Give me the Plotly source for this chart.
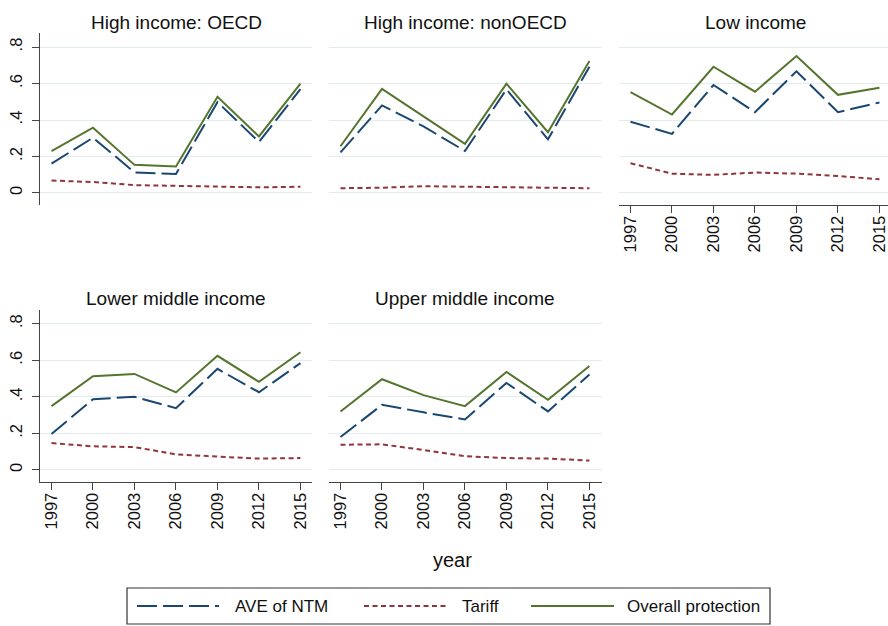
import plotly.graph_objects as go

years = [1997, 2000, 2003, 2006, 2009, 2012, 2015]
panel_titles = ["High income: OECD", "High income: nonOECD", "Low income",
                "Lower middle income", "Upper middle income"]
y_tickvals = [0, 0.2, 0.4, 0.6, 0.8]
y_ticktext = ["0", ".2", ".4", ".6", ".8"]
series_names = ["AVE of NTM", "Tariff", "Overall protection"]

ave_oecd = [0.161, 0.303, 0.113, 0.104, 0.498, 0.280, 0.569]
tariff_oecd = [0.068, 0.060, 0.043, 0.041, 0.035, 0.031, 0.034]
overall_oecd = [0.229, 0.358, 0.154, 0.145, 0.527, 0.310, 0.599]

ave_nonoecd = [0.223, 0.480, 0.365, 0.230, 0.568, 0.294, 0.692]
tariff_nonoecd = [0.026, 0.029, 0.037, 0.035, 0.031, 0.029, 0.026]
overall_nonoecd = [0.256, 0.571, 0.420, 0.269, 0.599, 0.333, 0.723]

ave_low = [0.390, 0.324, 0.592, 0.443, 0.667, 0.443, 0.496]
tariff_low = [0.163, 0.106, 0.099, 0.112, 0.106, 0.093, 0.075]
overall_low = [0.553, 0.430, 0.692, 0.555, 0.751, 0.538, 0.577]

ave_lmi = [0.196, 0.387, 0.400, 0.338, 0.553, 0.425, 0.584]
tariff_lmi = [0.147, 0.129, 0.125, 0.085, 0.073, 0.062, 0.065]
overall_lmi = [0.349, 0.513, 0.525, 0.424, 0.624, 0.482, 0.644]

ave_umi = [0.180, 0.356, 0.315, 0.276, 0.476, 0.320, 0.522]
tariff_umi = [0.138, 0.140, 0.109, 0.075, 0.065, 0.062, 0.051]
overall_umi = [0.320, 0.496, 0.409, 0.349, 0.536, 0.384, 0.569]

panel_data = [
    (ave_oecd, tariff_oecd, overall_oecd),
    (ave_nonoecd, tariff_nonoecd, overall_nonoecd),
    (ave_low, tariff_low, overall_low),
    (ave_lmi, tariff_lmi, overall_lmi),
    (ave_umi, tariff_umi, overall_umi),
]

W, H = 888, 626
FONT = "Liberation Sans, Arial, sans-serif"
colors = ["#1a476f", "#90353b", "#55752f"]
dashes = ["20px,6px", "5px,3.5px", "solid"]
AXIS_COLOR = "#444444"
GRID_COLOR = "#e2ebf0"
TXT = "#111111"

# panel geometry in pixels: (x0, x1, y_top, y_bottom)
geom = [
    (40, 312, 33, 205),
    (329, 602, 33, 205),
    (619, 888, 33, 205),
    (40, 312, 309.6, 482),
    (329, 602, 309.6, 482),
]
show_y = [True, False, False, True, False]
show_x = [False, False, True, True, True]
px_per_year = 13.83

fig = go.Figure()
layout = dict()
for i, (x0, x1, yt, yb) in enumerate(geom):
    idx = "" if i == 0 else str(i + 1)
    xa, ya = "x" + idx, "y" + idx
    ave, tar, ovr = panel_data[i]
    for k, vals in enumerate([ave, tar, ovr]):
        fig.add_trace(go.Scatter(
            x=years, y=vals, mode="lines", xaxis=xa, yaxis=ya,
            name=series_names[k], showlegend=False,
            line=dict(color=colors[k], width=2, dash=dashes[k]),
        ))
    x_lo = 1997 - 11.5 / px_per_year
    x_hi = x_lo + (x1 - x0) / px_per_year
    layout["xaxis" + idx] = dict(
        domain=[x0 / W, x1 / W], range=[x_lo, x_hi], anchor=ya,
        showgrid=False, zeroline=False,
        showline=show_x[i], linecolor=AXIS_COLOR, linewidth=1.2,
        ticks="outside" if show_x[i] else "", ticklen=7, tickcolor=AXIS_COLOR,
        tickwidth=1.2,
        tickvals=years, ticktext=[str(y) for y in years],
        showticklabels=show_x[i], tickangle=-90,
        tickfont=dict(family=FONT, size=16.5, color=TXT),
        ticklabelstandoff=-4, ticklabeloverflow="allow",
    )
    layout["yaxis" + idx] = dict(
        domain=[1 - yb / H, 1 - yt / H], range=[-0.066, 0.877], anchor=xa,
        showgrid=True, gridcolor=GRID_COLOR, gridwidth=1.3, zeroline=False,
        showline=show_y[i], linecolor=AXIS_COLOR, linewidth=1.2,
        ticks="outside" if show_y[i] else "", ticklen=7, tickcolor=AXIS_COLOR,
        tickwidth=1.2,
        tickvals=y_tickvals, ticktext=y_ticktext,
        showticklabels=show_y[i], tickangle=-90,
        tickfont=dict(family=FONT, size=16.5, color=TXT),
        ticklabelstandoff=3,
    )

annotations = []
title_y = [22, 22, 22, 298, 298]
for i, (x0, x1, yt, yb) in enumerate(geom):
    cx = (x0 + x1) / 2 if i != 2 else (619 + 891) / 2
    annotations.append(dict(
        text=panel_titles[i], x=cx / W, y=1 - title_y[i] / H,
        xref="paper", yref="paper", xanchor="center", yanchor="middle",
        showarrow=False, font=dict(family=FONT, size=19, color=TXT),
    ))
annotations.append(dict(
    text="year", x=452 / W, y=1 - 560 / H, xref="paper", yref="paper",
    xanchor="center", yanchor="middle", showarrow=False,
    font=dict(family=FONT, size=20, color=TXT),
))

# legend box drawn with paper-coordinate shapes and text
shapes = [dict(type="rect", xref="paper", yref="paper",
               x0=127 / W, x1=770 / W, y0=1 - 624 / H, y1=1 - 588 / H,
               line=dict(color="#333333", width=1.2), fillcolor="white")]
leg_y = 1 - 606 / H
leg_samples = [(137, 219), (364, 446), (531, 614)]
leg_text_x = [233, 460, 625]
for k in range(3):
    sx0, sx1 = leg_samples[k]
    shapes.append(dict(type="line", xref="paper", yref="paper",
                       x0=sx0 / W, x1=sx1 / W, y0=leg_y, y1=leg_y,
                       line=dict(color=colors[k], width=2, dash=dashes[k])))
    annotations.append(dict(
        text=series_names[k], x=leg_text_x[k] / W, y=leg_y,
        xref="paper", yref="paper", xanchor="left", yanchor="middle",
        showarrow=False, font=dict(family=FONT, size=17, color=TXT),
    ))

fig.update_layout(
    **layout,
    annotations=annotations,
    shapes=shapes,
    width=W, height=H,
    margin=dict(l=0, r=0, t=0, b=0),
    paper_bgcolor="white", plot_bgcolor="white",
    font=dict(family=FONT, color=TXT),
    showlegend=False,
)

fig.write_html("out.html",
               config={"displayModeBar": False},
               post_script="document.body.style.margin='0';"
                           "document.body.style.overflow='hidden';")
